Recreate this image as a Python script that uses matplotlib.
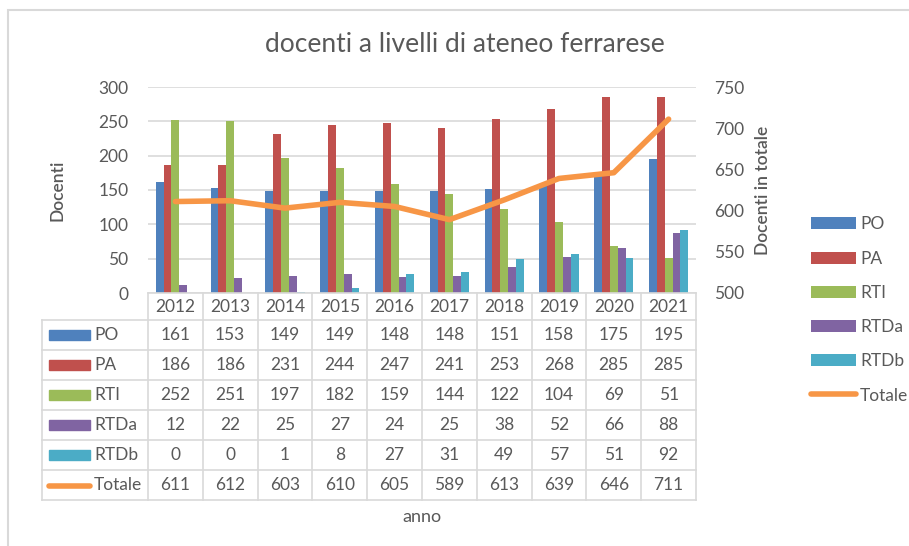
import numpy as np
import matplotlib
matplotlib.use('Agg')
import matplotlib.pyplot as plt
from matplotlib.patches import Rectangle
from matplotlib.lines import Line2D

plt.rcParams['font.family'] = ['Lato', 'DejaVu Sans']

# data
anni = ['2012', '2013', '2014', '2015', '2016', '2017', '2018', '2019', '2020', '2021']
po = [161, 153, 149, 149, 148, 148, 151, 158, 175, 195]
pa = [186, 186, 231, 244, 247, 241, 253, 268, 285, 285]
rti = [252, 251, 197, 182, 159, 144, 122, 104, 69, 51]
rtda = [12, 22, 25, 27, 24, 25, 38, 52, 66, 88]
rtdb = [0, 0, 1, 8, 27, 31, 49, 57, 51, 92]
totale = [611, 612, 603, 610, 605, 589, 613, 639, 646, 711]

serie = ['PO', 'PA', 'RTI', 'RTDa', 'RTDb']
valori = [po, pa, rti, rtda, rtdb]
colori = ['#4F81BD', '#C0504D', '#9BBB59', '#8064A2', '#4BACC6']
col_tot = '#F79646'
grigio = '#595959'
bordo = '#D9D9D9'

W, H = 909, 546
fig = plt.figure(figsize=(W / 100, H / 100), dpi=100)

def fx(px):
    return px / W

def fy(py):
    return 1 - py / H

# chart frame
fig.patches.append(Rectangle((fx(8), fy(600)), fx(1000), fy(10) - fy(600), transform=fig.transFigure,
                             fill=False, edgecolor=bordo, lw=1.5, clip_on=False))

x0, x1, ytop, ybot = 148, 696, 87, 293
ax = fig.add_axes([fx(x0), fy(ybot), fx(x1) - fx(x0), fy(ytop) - fy(ybot)])
x = np.arange(len(anni))
bw = 0.143
for i, (s, v, c) in enumerate(zip(serie, valori, colori)):
    ax.bar(x + (i - 2) * bw, v, bw, color=c, label=s, zorder=2)
ax.set_xlim(-0.5, len(anni) - 0.5)
ax.set_ylim(0, 300)
ax.set_yticks(range(0, 301, 50))
ax.set_xticks([])
ax.grid(axis='y', color=bordo, lw=1.2, zorder=0)
for sp in ax.spines.values():
    sp.set_visible(False)
ax.tick_params(axis='y', length=0, labelsize=12.5, labelcolor=grigio, pad=14)
ax.set_ylabel('Docenti', fontsize=12.5, color=grigio, fontweight='semibold', labelpad=24)

ax2 = ax.twinx()
ax2.plot(x, totale, color=col_tot, lw=4, solid_capstyle='round', label='Totale', zorder=3)
ax2.set_ylim(500, 750)
ax2.set_yticks(range(500, 751, 50))
for sp in ax2.spines.values():
    sp.set_visible(False)
ax2.tick_params(axis='y', length=0, labelsize=12.5, labelcolor=grigio, pad=13)
ax2.set_ylabel('Docenti in totale', fontsize=12.5, color=grigio, fontweight='semibold', labelpad=8)

fig.text(fx(465), fy(44), 'docenti a livelli di ateneo ferrarese', ha='center', va='center',
         fontsize=19, color=grigio)

# data table below the axis
cw = (x1 - x0) / len(anni)
lx = 42
righe = [293, 320, 350, 380, 410, 440, 470, 500]
def hline(xa, xb, yy):
    fig.add_artist(Line2D([fx(xa), fx(xb)], [fy(yy), fy(yy)], color=bordo, lw=1.2))
def vline(xx, ya, yb):
    fig.add_artist(Line2D([fx(xx), fx(xx)], [fy(ya), fy(yb)], color=bordo, lw=1.2))

hline(x0, x1, righe[0])
for yy in righe[1:]:
    hline(lx, x1, yy)
for k in range(len(anni) + 1):
    vline(x0 + k * cw, righe[0], righe[-1])
vline(lx, righe[1], righe[-1])
for k, a in enumerate(anni):
    fig.text(fx(x0 + (k + 0.5) * cw), fy((righe[0] + righe[1]) / 2), a, ha='center', va='center',
             fontsize=12.5, color=grigio)

tab_nomi = serie + ['Totale']
tab_val = valori + [totale]
for r, (nome, v) in enumerate(zip(tab_nomi, tab_val)):
    yc = (righe[r + 1] + righe[r + 2]) / 2
    if nome == 'Totale':
        fig.add_artist(Line2D([fx(49), fx(90)], [fy(yc + 1), fy(yc + 1)], color=col_tot, lw=4,
                              solid_capstyle='round'))
    else:
        fig.patches.append(Rectangle((fx(49), fy(yc + 5)), fx(41), fy(0) - fy(10), transform=fig.transFigure,
                                     color=colori[r]))
    fig.text(fx(94), fy(yc), nome, ha='left', va='center', fontsize=12.5, color=grigio)
    for k, val in enumerate(v):
        fig.text(fx(x0 + (k + 0.5) * cw), fy(yc), str(val), ha='center', va='center',
                 fontsize=12.5, color=grigio)

fig.text(fx((x0 + x1) / 2), fy(517), 'anno', ha='center', va='center', fontsize=13, color=grigio)

# legend on the right
h1, l1 = ax.get_legend_handles_labels()
h2, l2 = ax2.get_legend_handles_labels()
fig.legend(h1 + h2, l1 + l2, loc='center left', bbox_to_anchor=(fx(795), fy(310)), frameon=False,
           fontsize=12.5, labelcolor=grigio, handlelength=2.6, handletextpad=0.25, labelspacing=1.05)

fig.savefig('out.png', dpi=100, facecolor='white')
